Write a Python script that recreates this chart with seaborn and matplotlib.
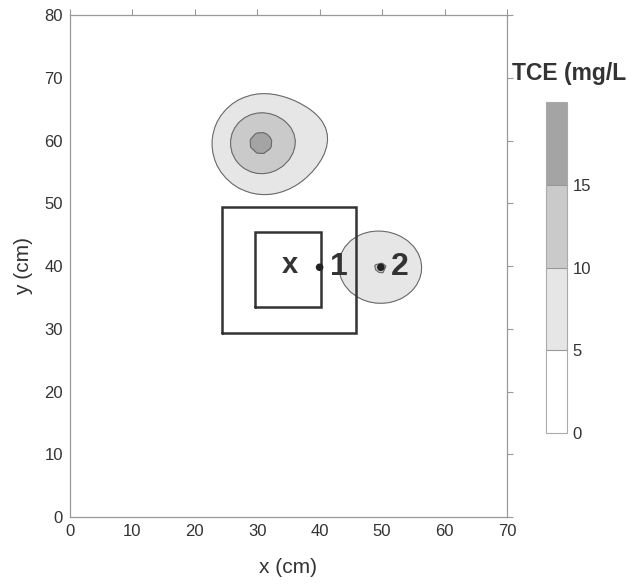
import numpy as np
import matplotlib
matplotlib.use("Agg")
import matplotlib.pyplot as plt
from matplotlib.colors import ListedColormap, BoundaryNorm
import seaborn as sns

# Dissolved TCE plume sources: centre (cm), peak (mg/L), spread (cm)
plume_x = [30.2, 33.5, 40.0, 49.8]
plume_y = [59.7, 58.5, 61.5, 39.7]
plume_peak = [11.6, 4.5, 1.6, 10.1]
plume_sx = [4.4, 9.0, 4.5, 5.5]
plume_sy = [4.4, 8.5, 4.5, 4.75]

# Contour levels and fills (mg/L)
levels = [0, 5, 10, 15, 20]
fill_colors = ["#ffffff", "#e6e6e6", "#cacaca", "#a4a4a4"]

# Treatment zones (x0, x1, y0, y1 in cm)
outer_zone = [24.3, 45.9, 29.3, 49.4]
inner_zone = [29.7, 40.3, 33.5, 45.4]

# Sampling wells
well_x = [40.0, 49.8]
well_y = [39.8, 39.8]
well_labels = ["1", "2"]
source_x, source_y = 35.3, 39.8

sns.set_style("white")
plt.rcParams["font.family"] = ["Liberation Sans", "DejaVu Sans"]

fig = plt.figure(figsize=(6.29, 5.86), dpi=100)
ax = fig.add_axes([0.111, 0.1177, 0.695, 0.8567])

gx = np.arange(0, 70.01, 1.0)
gy = np.arange(0, 80.01, 1.0)
X, Y = np.meshgrid(gx, gy)
C = np.zeros_like(X)
for px, py, pk, sx, sy in zip(plume_x, plume_y, plume_peak, plume_sx, plume_sy):
    C += pk * np.exp(-((X - px) ** 2) / (2 * sx ** 2) - ((Y - py) ** 2) / (2 * sy ** 2))

cmap = ListedColormap(fill_colors)
norm = BoundaryNorm(levels, cmap.N)
cf = ax.contourf(X, Y, C, levels=levels, cmap=cmap, norm=norm)
ax.contour(X, Y, C, levels=levels[1:-1], colors="#6a6a6a", linewidths=0.8)

for zone in (outer_zone, inner_zone):
    x0, x1, y0, y1 = zone
    ax.plot([x0, x1, x1, x0, x0], [y0, y0, y1, y1, y0], color="#333333", lw=1.8,
            solid_joinstyle="miter")

sns.scatterplot(x=well_x, y=well_y, ax=ax, color="#222222", s=30, edgecolor="none",
                zorder=5, legend=False)
for wx, wy, lab in zip(well_x, well_y, well_labels):
    ax.text(wx + 1.6, wy, lab, ha="left", va="center", fontsize=23, fontweight="bold",
            color="#333333")
ax.text(source_x, source_y + 0.3, "x", ha="center", va="center", fontsize=21,
        fontweight="bold", color="#333333")

ax.set_xlim(0, 70)
ax.set_ylim(0, 80)
ax.set_xticks(range(0, 71, 10))
ax.set_yticks(range(0, 81, 10))
ax.set_xlabel("x (cm)", fontsize=15, color="#333333", labelpad=14)
ax.set_ylabel("y (cm)", fontsize=15, color="#333333", labelpad=8)
for sp in ax.spines.values():
    sp.set_visible(True)
    sp.set_color("#999999")
    sp.set_linewidth(0.9)
ax.tick_params(axis="both", which="both", direction="out", length=4, width=0.8,
               color="#999999", labelsize=12, labelcolor="#333333", pad=1,
               top=True, right=True)

cax = fig.add_axes([0.868, 0.261, 0.0334, 0.565])
cb = fig.colorbar(cf, cax=cax, ticks=levels[:-1])
cb.outline.set_edgecolor("#aaaaaa")
cb.outline.set_linewidth(0.8)
cb.ax.minorticks_off()
cb.ax.tick_params(which="both", length=0, labelsize=12, labelcolor="#333333", pad=4)
cb.ax.set_yticklabels([str(v) for v in levels[:-1]])
for lv in levels[1:-1]:
    cb.ax.axhline(lv, color="#999999", lw=0.8)
fig.text(0.814, 0.863, "TCE (mg/L", fontsize=16.5, fontweight="bold", color="#333333",
         ha="left", va="baseline")

fig.savefig("out.png", dpi=100)
